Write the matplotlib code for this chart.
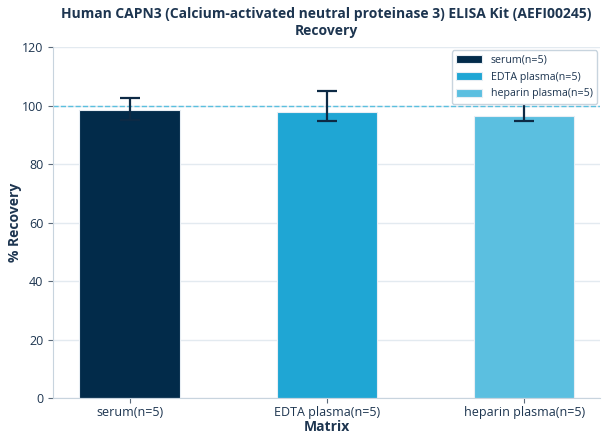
import matplotlib
matplotlib.use('Agg')
import matplotlib.pyplot as plt
import numpy as np

plt.rcParams['font.family'] = ['Open Sans', 'DejaVu Sans']

# data
matrix = ['serum(n=5)', 'EDTA plasma(n=5)', 'heparin plasma(n=5)']
recovery = [98.6, 97.7, 96.5]
err_low = [3.6, 2.8, 1.6]
err_high = [4.2, 7.2, 6.0]
colors = ['#022b4a', '#1fa6d4', '#5bbfe0']

text_c = '#1d3550'
fig = plt.figure(figsize=(6.08, 4.44), dpi=100)
ax = fig.add_axes([0.0872, 0.1036, 0.8997, 0.790])

x = np.arange(len(matrix))
ax.bar(x, recovery, width=0.51, color=colors, edgecolor='#e8eef4', linewidth=0.8,
       label=matrix, zorder=2)
ax.errorbar(x, recovery, yerr=[err_low, err_high], fmt='none', ecolor='#0d2a45',
            elinewidth=1.6, capsize=7, capthick=1.6, zorder=3)
ax.axhline(100, color='#5bc0de', linestyle='--', linewidth=1, zorder=1)

ax.set_xlim(-0.388, 2.385)
ax.set_ylim(0, 120)
ax.set_yticks(range(0, 121, 20))
ax.set_xticks(x)
ax.set_xticklabels(matrix)
ax.grid(axis='y', color='#e3eaf0', linewidth=1, zorder=0)
ax.set_axisbelow(True)
for s in ['top', 'right']:
    ax.spines[s].set_visible(False)
for s in ['left', 'bottom']:
    ax.spines[s].set_color('#c8d4de')
ax.tick_params(colors='#5a6a7a', labelcolor=text_c, labelsize=9, length=3.5)
ax.tick_params(axis='x', pad=2)

ax.set_xlabel('Matrix', fontsize=10, fontweight='bold', color=text_c, labelpad=1)
ax.set_ylabel('% Recovery', fontsize=10, fontweight='bold', color=text_c, labelpad=0)
ax.set_title('Human CAPN3 (Calcium-activated neutral proteinase 3) ELISA Kit (AEFI00245)\nRecovery',
             fontsize=10, fontweight='bold', color=text_c, pad=9, linespacing=1.25)

leg = ax.legend(loc='upper right', fontsize=7.7, frameon=True, fancybox=True,
                framealpha=1, edgecolor='#c8d4de', handlelength=2.4,
                handleheight=0.8, borderaxespad=0.3, labelspacing=0.55)
leg.set_zorder(5)
for t in leg.get_texts():
    t.set_color(text_c)

fig.savefig('out.png', dpi=100)
